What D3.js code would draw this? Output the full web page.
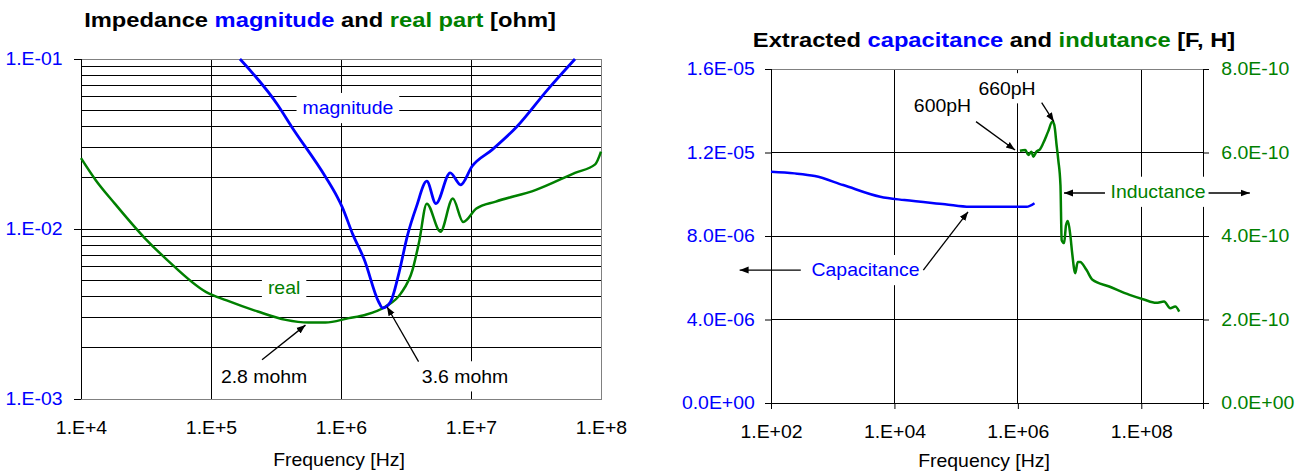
<!DOCTYPE html>
<html>
<head>
<meta charset="utf-8">
<script src="https://cdn.jsdelivr.net/npm/d3@7"></script>
<style>
  body { margin: 0; background: #fff; }
  text { font-family: "Liberation Sans", Arial, sans-serif; }
</style>
</head>
<body>
<div id="canvas"></div>
<script>
// ---- data ----

// impedance magnitude [ohm] vs frequency [Hz]
const magFreq = [1.67e5, 3.27e5, 4.17e5, 7.59e5, 9.33e5, 1.02e6, 1.23e6, 1.51e6, 1.95e6, 2.09e6,
                 2.40e6, 2.79e6, 3.24e6, 3.80e6, 4.57e6, 5.37e6, 6.92e6, 8.32e6, 1.02e7, 1.45e7,
                 2.24e7, 3.89e7, 6.31e7];
const magOhm = [0.100, 0.0535, 0.0400, 0.0203, 0.0155, 0.0135, 0.00933, 0.00661, 0.00372, 0.00343,
                0.00372, 0.00550, 0.00912, 0.0135, 0.0191, 0.0141, 0.0214, 0.0182, 0.0234, 0.0292,
                0.0398, 0.0661, 0.100];

// impedance real part [ohm]
const realFreq = [1.0e4, 1.29e4, 1.82e4, 3.09e4, 4.57e4, 9.12e4, 1.32e5, 2.29e5, 3.76e5, 5.62e5,
                  7.59e5, 1.15e6, 1.53e6, 2.19e6, 2.88e6, 3.55e6, 3.98e6, 4.57e6, 5.82e6, 7.24e6,
                  8.71e6, 1.10e7, 1.55e7, 3.16e7, 6.31e7, 9.02e7, 1.0e8];
const realOhm = [0.0261, 0.0195, 0.0141, 0.00885, 0.00661, 0.00427, 0.00380, 0.00327, 0.00292, 0.00282,
                 0.00282, 0.00299, 0.00312, 0.00349, 0.00417, 0.00575, 0.00832, 0.0141, 0.00964, 0.0151,
                 0.0110, 0.0132, 0.0145, 0.0170, 0.0214, 0.0240, 0.0285];

// extracted capacitance [F]
const capFreq = [100, 240, 513, 1480, 5890, 14500, 66100, 166000, 1.38e6, 1.86e6];
const capFarad = [1.108e-5, 1.100e-5, 1.087e-5, 1.044e-5, 0.988e-5, 0.972e-5, 0.952e-5, 0.940e-5,
                  0.940e-5, 0.957e-5];

// extracted inductance [H]
const indFreq = [1.08e6, 1.32e6, 1.48e6, 1.66e6, 1.78e6, 2.00e6, 2.29e6, 2.57e6, 3.09e6, 3.63e6,
                 3.89e6, 4.27e6, 4.52e6, 4.90e6, 5.13e6, 5.62e6, 6.03e6, 6.46e6, 7.08e6, 7.59e6,
                 8.51e6, 9.33e6, 1.02e7, 1.29e7, 1.62e7, 3.02e7, 6.46e7, 1.10e8, 1.74e8, 2.34e8,
                 2.95e8, 3.55e8, 4.12e8];
const indHenry = [6.04e-10, 6.06e-10, 5.94e-10, 6.02e-10, 5.90e-10, 6.02e-10, 6.08e-10, 6.22e-10, 6.50e-10, 6.74e-10,
                  6.66e-10, 6.14e-10, 5.82e-10, 5.22e-10, 3.90e-10, 3.83e-10, 4.26e-10, 4.36e-10, 4.02e-10, 3.59e-10,
                  3.11e-10, 3.38e-10, 3.38e-10, 3.19e-10, 2.95e-10, 2.79e-10, 2.59e-10, 2.48e-10, 2.40e-10, 2.43e-10,
                  2.27e-10, 2.31e-10, 2.19e-10];

// tick values
const leftFreqTicks = [1e4, 1e5, 1e6, 1e7, 1e8];
const leftOhmTicks = [1e-3, 1e-2, 1e-1];
const rightFreqTicks = [1e2, 1e4, 1e6, 1e8];
const capTicks = [0, 4e-6, 8e-6, 1.2e-5, 1.6e-5];
const indTicks = [0, 2e-10, 4e-10, 6e-10, 8e-10];

// annotations, in data units (label centre, arrow tail -> tip)
const leftNotes = [
    { text: "magnitude", f: 1.13e6, v: 5.15e-2, color: "#0000ff" },
    { text: "real", f: 3.65e5, v: 4.5e-3, color: "#008000" },
    { text: "2.8 mohm", f: 2.56e5, v: 1.36e-3, color: "#000" },
    { text: "3.6 mohm", f: 9.0e6, v: 1.36e-3, color: "#000" }
];
const leftArrows = [
    { f1: 2.47e5, v1: 1.70e-3, f2: 5.33e5, v2: 2.72e-3 },
    { f1: 3.95e6, v1: 1.66e-3, f2: 2.26e6, v2: 3.49e-3 }
];
const rightNotes = [
    { text: "600pH", f: 6.0e4, v: 1.423e-5, color: "#000" },
    { text: "660pH", f: 6.67e5, v: 1.508e-5, color: "#000" },
    { text: "Inductance", f: 1.87e8, v: 1.012e-5, color: "#008000" },
    { text: "Capacitance", f: 3.40e3, v: 6.37e-6, color: "#0000ff" }
];
const rightArrows = [
    { f1: 2.10e5, v1: 1.348e-5, f2: 9.0e5, v2: 1.212e-5 },
    { f1: 2.43e6, v1: 1.439e-5, f2: 3.83e6, v2: 1.348e-5 },
    { f1: 2.58e7, v1: 1.006e-5, f2: 5.60e6, v2: 1.006e-5 },
    { f1: 1.23e9, v1: 1.006e-5, f2: 5.74e9, v2: 1.006e-5 },
    { f1: 304, v1: 6.37e-6, f2: 31.0, v2: 6.37e-6 },
    { f1: 2.94e4, v1: 6.37e-6, f2: 1.56e5, v2: 9.16e-6 }
];

// ---- drawing ----
const width = 1297, height = 473;
const blue = "#0000ff", green = "#008000";
const fontSize = 18, stretch = 1.08;      // the picture is a little wide
const titleSize = 21, titleStretch = 1.13;

const svg = d3.select("#canvas")
    .append("svg")
    .attr("width", width)
    .attr("height", height)
    .style("background", "#fff");

svg.append("defs").append("marker")
    .attr("id", "arrow")
    .attr("viewBox", "0 0 10 10")
    .attr("refX", 10).attr("refY", 5)
    .attr("markerWidth", 9).attr("markerHeight", 9)
    .attr("markerUnits", "userSpaceOnUse")
    .attr("orient", "auto")
    .append("path")
    .attr("d", "M0,1.2 L10,5 L0,8.8 Z")
    .attr("fill", "#000");

// exponent label like Excel: 1.E+4, 1.E-01, 1.6E-05
function expLabel(d, digits, mant) {
    if (d === 0) return (mant ? "0.0" : "0.") + "E+" + "0".repeat(digits);
    let e = Math.floor(Math.log10(d) + 1e-9);
    let m = d / Math.pow(10, e);
    let sign = e < 0 ? "-" : "+";
    let ex = String(Math.abs(e)).padStart(digits, "0");
    return (mant ? m.toFixed(1) : "1.") + "E" + sign + ex;
}

function styleTicks(g, color) {
    g.attr("font-size", fontSize).attr("font-family", '"Liberation Sans", Arial, sans-serif');
    g.select(".domain").remove();
    g.selectAll(".tick line").attr("stroke", "#000");
    g.selectAll(".tick text").attr("fill", color).attr("transform", `scale(${stretch},1)`);
}

// stretched text at x, y (centre), optional white box behind
function note(x, y, str, color, boxed) {
    const g = svg.append("g").attr("transform", `translate(${x},${y})`);
    const t = g.append("text")
        .attr("text-anchor", "middle")
        .attr("dy", "0.35em")
        .attr("font-size", fontSize)
        .attr("fill", color)
        .attr("transform", `scale(${stretch},1)`)
        .text(str);
    if (boxed) {
        const b = t.node().getBBox();
        g.insert("rect", "text")
            .attr("x", b.x * stretch - 6)
            .attr("y", b.y - 5)
            .attr("width", b.width * stretch + 12)
            .attr("height", b.height + 10)
            .attr("fill", "#fff");
    }
    return g;
}

function title(x, y, parts) {
    const t = svg.append("text")
        .attr("transform", `translate(${x},${y}) scale(${titleStretch},1)`)
        .attr("text-anchor", "middle")
        .attr("dy", "0.35em")
        .attr("font-size", titleSize)
        .attr("font-weight", "bold");
    parts.forEach(p => t.append("tspan").attr("fill", p[1]).text(p[0]));
}

// ---------- left chart: impedance ----------
const xL = d3.scaleLog().domain([1e4, 1e8]).range([81, 601]);
const yL = d3.scaleLog().domain([1e-3, 1e-1]).range([399, 59]);

const gridL = svg.append("g").attr("stroke", "#000").attr("shape-rendering", "crispEdges");
gridL.selectAll(".h").data(yL.ticks()).join("line")
    .attr("x1", 81).attr("x2", 601)
    .attr("y1", d => yL(d)).attr("y2", d => yL(d));
gridL.selectAll(".v").data(leftFreqTicks.slice(1, -1)).join("line")
    .attr("class", "v")
    .attr("x1", d => xL(d)).attr("x2", d => xL(d))
    .attr("y1", 59).attr("y2", 399);

svg.append("rect")
    .attr("x", 81).attr("y", 59).attr("width", 520).attr("height", 340)
    .attr("fill", "none").attr("stroke", "#808080").attr("shape-rendering", "crispEdges");
svg.append("line").attr("x1", 81).attr("x2", 81).attr("y1", 59).attr("y2", 399)
    .attr("stroke", "#000").attr("shape-rendering", "crispEdges");

leftNotes.forEach(n => note(xL(n.f), yL(n.v), n.text, n.color, true));

const lineL = d3.line().x(d => xL(d[0])).y(d => yL(d[1])).curve(d3.curveMonotoneX);
svg.append("path").datum(d3.zip(realFreq, realOhm))
    .attr("d", lineL).attr("fill", "none").attr("stroke", green).attr("stroke-width", 2.5)
    .attr("stroke-linejoin", "round");
svg.append("path").datum(d3.zip(magFreq, magOhm))
    .attr("d", lineL).attr("fill", "none").attr("stroke", blue).attr("stroke-width", 2.8)
    .attr("stroke-linejoin", "round");

svg.append("g").selectAll("line").data(leftArrows).join("line")
    .attr("x1", d => xL(d.f1)).attr("y1", d => yL(d.v1))
    .attr("x2", d => xL(d.f2)).attr("y2", d => yL(d.v2))
    .attr("stroke", "#000").attr("stroke-width", 1.3)
    .attr("marker-end", "url(#arrow)");

svg.append("g").attr("transform", "translate(0,399)")
    .call(d3.axisBottom(xL).tickValues(leftFreqTicks).tickSize(0).tickPadding(22)
        .tickFormat(d => expLabel(d, 1, false)))
    .call(g => styleTicks(g, "#000"));
svg.append("g").attr("transform", "translate(81,0)")
    .call(d3.axisLeft(yL).tickValues(leftOhmTicks).tickSize(7).tickPadding(10)
        .tickFormat(d => expLabel(d, 2, false)))
    .call(g => styleTicks(g, blue));

title(320, 20, [["Impedance ", "#000"], ["magnitude", blue], [" and ", "#000"],
                ["real part", green], [" [ohm]", "#000"]]);
note(339, 460, "Frequency [Hz]", "#000", false);

// ---------- right chart: capacitance and inductance ----------
const xR = d3.scaleLog().domain([1e2, 1e9]).range([771, 1203]);
const yC = d3.scaleLinear().domain([0, 1.6e-5]).range([403, 69]);
const yI = d3.scaleLinear().domain([0, 8e-10]).range([403, 69]);

const gridR = svg.append("g").attr("stroke", "#000").attr("shape-rendering", "crispEdges");
gridR.selectAll(".h").data(capTicks.slice(1, -1)).join("line")
    .attr("class", "h")
    .attr("x1", 771).attr("x2", 1203)
    .attr("y1", d => yC(d)).attr("y2", d => yC(d));
gridR.selectAll(".v").data(rightFreqTicks.slice(1)).join("line")
    .attr("class", "v")
    .attr("x1", d => xR(d)).attr("x2", d => xR(d))
    .attr("y1", 69).attr("y2", 403);

svg.append("rect")
    .attr("x", 771).attr("y", 69).attr("width", 432).attr("height", 334)
    .attr("fill", "none").attr("stroke", "#808080").attr("shape-rendering", "crispEdges");
svg.append("path").attr("d", "M771,69V403H1203V69")
    .attr("fill", "none").attr("stroke", "#000").attr("shape-rendering", "crispEdges");

rightNotes.forEach(n => note(xR(n.f), yC(n.v), n.text, n.color, true));

svg.append("path").datum(d3.zip(capFreq, capFarad))
    .attr("d", d3.line().x(d => xR(d[0])).y(d => yC(d[1])).curve(d3.curveMonotoneX))
    .attr("fill", "none").attr("stroke", blue).attr("stroke-width", 2.5)
    .attr("stroke-linejoin", "round");
svg.append("path").datum(d3.zip(indFreq, indHenry))
    .attr("d", d3.line().x(d => xR(d[0])).y(d => yI(d[1])).curve(d3.curveMonotoneX))
    .attr("fill", "none").attr("stroke", green).attr("stroke-width", 2.5)
    .attr("stroke-linejoin", "round");

svg.append("g").selectAll("line").data(rightArrows).join("line")
    .attr("x1", d => xR(d.f1)).attr("y1", d => yC(d.v1))
    .attr("x2", d => xR(d.f2)).attr("y2", d => yC(d.v2))
    .attr("stroke", "#000").attr("stroke-width", 1.3)
    .attr("marker-end", "url(#arrow)");

svg.append("g").attr("transform", "translate(0,403)")
    .call(d3.axisBottom(xR).tickValues(rightFreqTicks.concat([1e9])).tickSize(6).tickPadding(16)
        .tickFormat(d => d === 1e9 ? "" : expLabel(d, 2, false)))
    .call(g => styleTicks(g, "#000"));
svg.append("g").attr("transform", "translate(771,0)")
    .call(d3.axisLeft(yC).tickValues(capTicks).tickSize(6).tickPadding(9)
        .tickFormat(d => expLabel(d, 2, true)))
    .call(g => styleTicks(g, blue));
svg.append("g").attr("transform", "translate(1203,0)")
    .call(d3.axisRight(yI).tickValues(indTicks).tickSize(6).tickPadding(11)
        .tickFormat(d => expLabel(d, 2, true)))
    .call(g => styleTicks(g, green));

title(994, 40, [["Extracted ", "#000"], ["capacitance", blue], [" and ", "#000"],
                ["indutance", green], [" [F, H]", "#000"]]);
note(984, 461, "Frequency [Hz]", "#000", false);
</script>
</body>
</html>
